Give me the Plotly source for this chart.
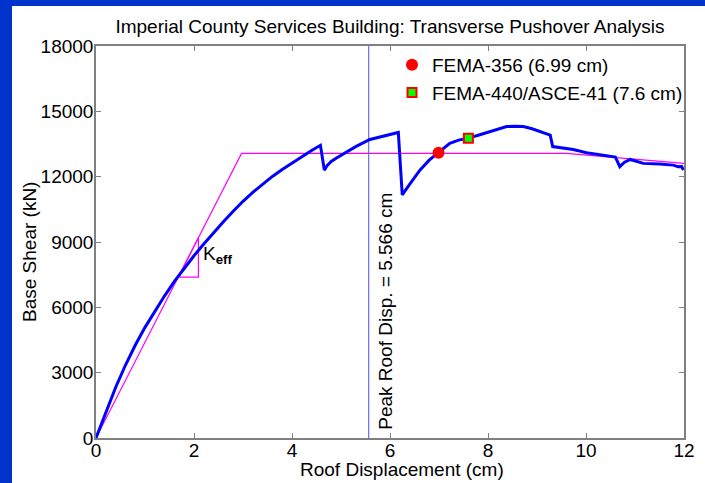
import plotly.graph_objects as go

# ---- data ----
push_x = [0, 0.2, 0.4, 0.6, 0.8, 1.0, 1.2, 1.4, 1.6, 1.8, 2.0, 2.2, 2.4, 2.6, 2.8, 3.0, 3.2, 3.4,
          3.6, 3.8, 4.0, 4.2, 4.4, 4.58, 4.62, 4.66, 4.72, 4.8, 4.9, 5.0, 5.12, 5.3, 5.59, 5.9,
          6.17, 6.21, 6.25, 6.4, 6.61, 6.8, 6.99, 7.22, 7.4, 7.58, 7.8, 8.04, 8.2, 8.38, 8.55,
          8.72, 8.9, 9.06, 9.27, 9.32, 9.5, 9.74, 10.01, 10.25, 10.49, 10.6, 10.69, 10.78, 10.9,
          11.17, 11.5, 11.78, 11.88, 11.95, 11.99]
push_y = [0, 1200, 2320, 3340, 4260, 5080, 5830, 6530, 7190, 7800, 8370, 8910, 9430, 9930, 10410,
          10870, 11280, 11660, 12010, 12330, 12630, 12920, 13200, 13440, 12850, 12300, 12520, 12700,
          12850, 12980, 13150, 13380, 13710, 13880, 14030, 12600, 11160, 11650, 12300, 12760, 13100,
          13530, 13680, 13760, 13900, 14070, 14200, 14300, 14320, 14300, 14200, 14070, 13910, 13380,
          13320, 13250, 13100, 13020, 12950, 12900, 12460, 12650, 12790, 12610, 12580, 12530, 12460,
          12470, 12300]

bilin_x = [0, 2.97, 9.6, 12]
bilin_y = [0, 13070, 13070, 12610]

keff_x = [1.68, 2.09, 2.09, 1.68]
keff_y = [7390, 7390, 9196, 7390]

peak_disp = 5.566
y_max = 18000

fema356_x = [6.99]
fema356_y = [13100]
fema440_x = [7.6]
fema440_y = [13760]

x_ticks = [0, 2, 4, 6, 8, 10, 12]
y_ticks = [0, 3000, 6000, 9000, 12000, 15000, 18000]

FONT = "Liberation Sans, Arial, sans-serif"
W, H = 705, 483
L, R, T, B = 96, 21, 46, 45
PW, PH = W - L - R, H - T - B


def px2paper_x(px):
    return (px - L) / PW


def px2paper_y(py):
    return (H - B - py) / PH


fig = go.Figure()

fig.add_trace(go.Scatter(x=bilin_x, y=bilin_y, mode="lines",
                         line=dict(color="#ff00ff", width=1.2), showlegend=False, hoverinfo="skip"))
fig.add_trace(go.Scatter(x=keff_x, y=keff_y, mode="lines",
                         line=dict(color="#ff00ff", width=1.2), showlegend=False, hoverinfo="skip"))
fig.add_trace(go.Scatter(x=[peak_disp, peak_disp], y=[0, y_max], mode="lines",
                         line=dict(color="#4d4dff", width=1), showlegend=False, hoverinfo="skip"))
fig.add_trace(go.Scatter(x=push_x, y=push_y, mode="lines",
                         line=dict(color="#0000ff", width=3, shape="linear"), showlegend=False))
fig.add_trace(go.Scatter(x=fema356_x, y=fema356_y, mode="markers", name="FEMA-356 (6.99 cm)",
                         marker=dict(symbol="circle", size=12, color="#ff0000",
                                     line=dict(width=0)), legendgroup="a"))
fig.add_trace(go.Scatter(x=fema440_x, y=fema440_y, mode="markers", name="FEMA-440/ASCE-41 (7.6 cm)",
                         marker=dict(symbol="square", size=9, color="#00ff00",
                                     line=dict(width=2, color="#ff0000")), legendgroup="b"))

axis_common = dict(showgrid=False, zeroline=False, showline=True, linecolor="#808080", linewidth=1.5,
                   ticks="inside", ticklen=5, tickwidth=1, tickcolor="#808080", mirror="ticks",
                   automargin=False,
                   tickfont=dict(family=FONT, size=19, color="#000000"))

fig.update_xaxes(range=[0, 12], tickvals=x_ticks, ticktext=[str(v) for v in x_ticks],
                 ticklabelstandoff=-6, **axis_common)
fig.update_yaxes(range=[0, y_max], tickvals=y_ticks, ticktext=[str(v) for v in y_ticks],
                 ticklabelstandoff=-3, **axis_common)

# axis titles
fig.add_annotation(x=px2paper_x(402), y=px2paper_y(469), xref="paper", yref="paper",
                   text="Roof Displacement (cm)", showarrow=False, xanchor="center", yanchor="middle",
                   font=dict(family=FONT, size=19, color="#000"))
fig.add_annotation(x=px2paper_x(29), y=px2paper_y(252), xref="paper", yref="paper",
                   text="Base Shear (kN)", textangle=-90, showarrow=False, xanchor="center",
                   yanchor="middle", font=dict(family=FONT, size=19, color="#000"))

fig.add_annotation(x=peak_disp, y=5830, xref="x", yref="y", text="Peak Roof Disp. = 5.566 cm",
                   textangle=-90, showarrow=False, xanchor="center", yanchor="middle", xshift=16,
                   font=dict(family=FONT, size=19, color="#000"))
fig.add_annotation(x=2.15, y=8400, xref="x", yref="y", text="K<sub><b>eff</b></sub>",
                   showarrow=False, xanchor="left", yanchor="middle",
                   font=dict(family=FONT, size=19, color="#000"))

# blue slide frame
blue = "#0033cc"
fig.add_shape(type="rect", xref="paper", yref="paper",
              x0=px2paper_x(0), x1=px2paper_x(12), y0=px2paper_y(H), y1=px2paper_y(0),
              fillcolor=blue, line=dict(width=0), layer="below")
fig.add_shape(type="rect", xref="paper", yref="paper",
              x0=px2paper_x(0), x1=px2paper_x(W), y0=px2paper_y(6), y1=px2paper_y(0),
              fillcolor=blue, line=dict(width=0), layer="below")

fig.update_layout(
    width=W, height=H, autosize=False,
    margin=dict(l=L, r=R, t=T, b=B, pad=0, autoexpand=False),
    paper_bgcolor="#ffffff", plot_bgcolor="#ffffff",
    font=dict(family=FONT, size=19, color="#000"),
    title=dict(text="Imperial County Services Building: Transverse Pushover Analysis",
               x=px2paper_x(390), xref="paper", xanchor="center",
               y=1 - 26 / H, yref="container", yanchor="middle", automargin=False,
               font=dict(family=FONT, size=19, color="#000")),
    showlegend=True,
    legend=dict(x=px2paper_x(392), y=px2paper_y(46), xanchor="left", yanchor="top",
                bgcolor="rgba(0,0,0,0)", borderwidth=0, tracegroupgap=0, traceorder="grouped",
                font=dict(family=FONT, size=19, color="#000")),
)

fig.write_html("out.html", config={"displayModeBar": False},
               post_script="document.body.style.margin='0px';document.body.style.overflow='hidden';")
